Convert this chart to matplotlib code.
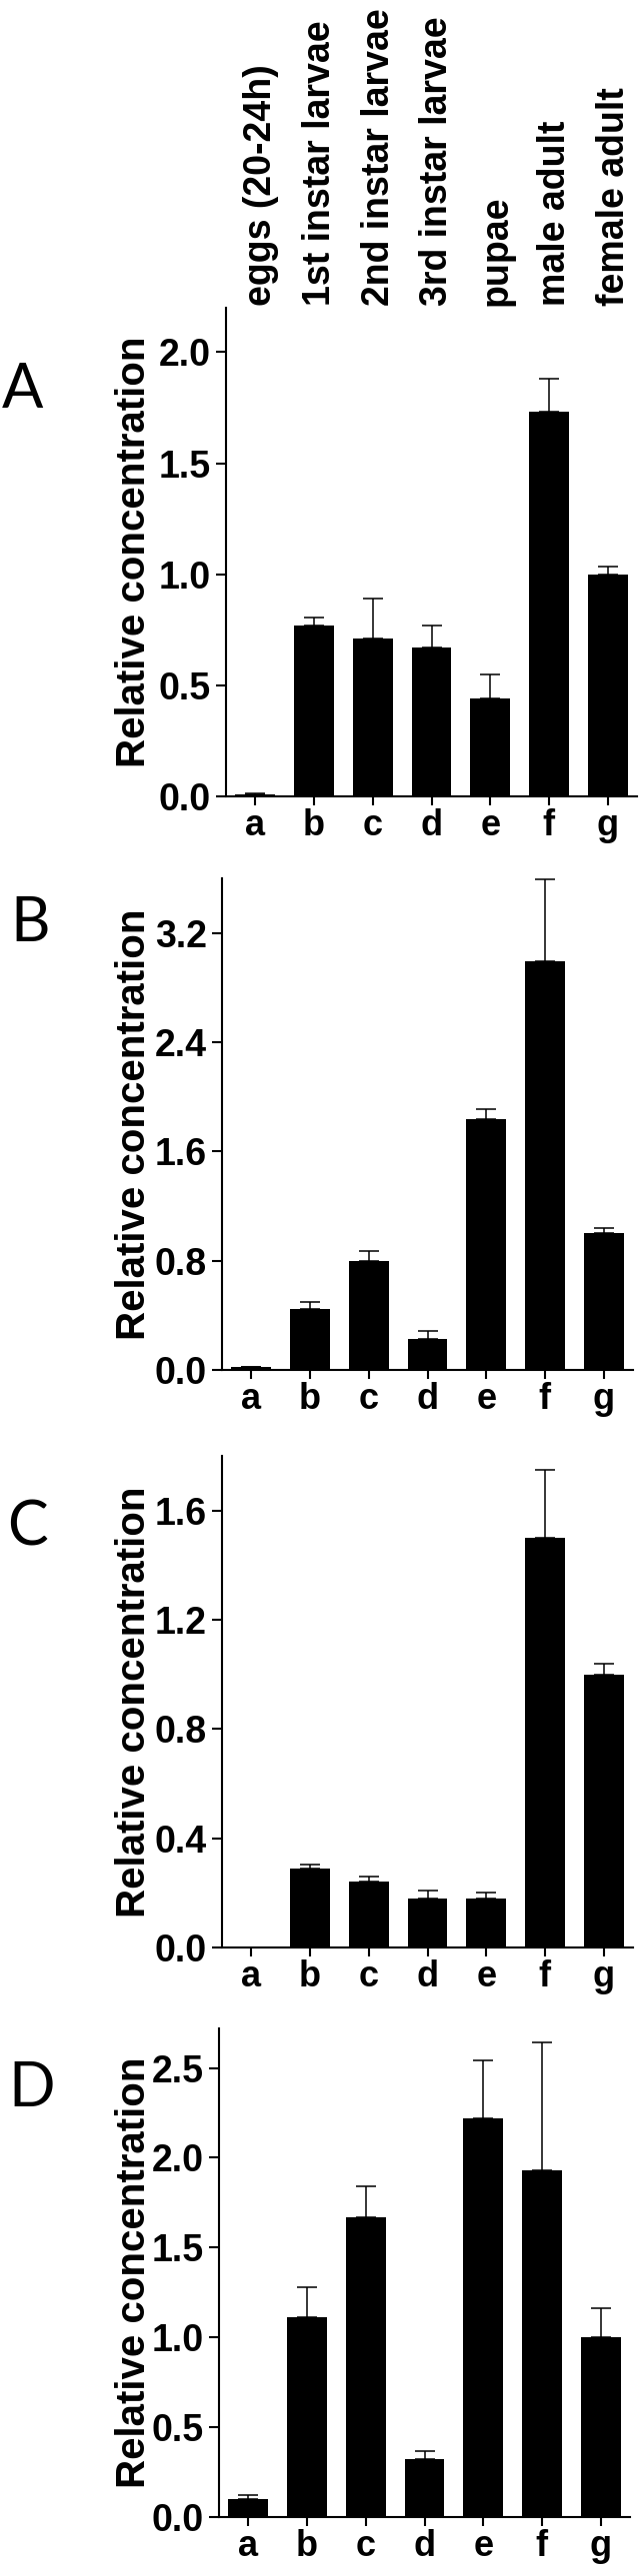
import matplotlib
matplotlib.use('Agg')
import matplotlib.pyplot as plt
import matplotlib.transforms as mtransforms

#************************DATA************************
stageNames = ['eggs (20-24h)', '1st instar larvae', '2nd instar larvae', '3rd instar larvae',
              'pupae', 'male adult', 'female adult']
tickLetters = ['a', 'b', 'c', 'd', 'e', 'f', 'g']

valuesA = [0.01, 0.77, 0.71, 0.67, 0.44, 1.73, 1.00]
errorsA = [0.003, 0.035, 0.18, 0.10, 0.11, 0.15, 0.035]

valuesB = [0.02, 0.45, 0.80, 0.23, 1.84, 2.99, 1.00]
errorsB = [0.004, 0.05, 0.07, 0.055, 0.07, 0.60, 0.04]

valuesC = [0.0, 0.29, 0.24, 0.18, 0.18, 1.50, 1.00]
errorsC = [0.0, 0.015, 0.02, 0.03, 0.02, 0.25, 0.04]

valuesD = [0.10, 1.11, 1.67, 0.32, 2.22, 1.93, 1.00]
errorsD = [0.025, 0.17, 0.17, 0.045, 0.32, 0.71, 0.16]

panelLetters = ['A', 'B', 'C', 'D']
panelValues = [valuesA, valuesB, valuesC, valuesD]
panelErrors = [errorsA, errorsB, errorsC, errorsD]
panelYMax = [2.2, 3.6, 1.8, 2.72]
panelYTicks = [[0.0, 0.5, 1.0, 1.5, 2.0],
               [0.0, 0.8, 1.6, 2.4, 3.2],
               [0.0, 0.4, 0.8, 1.2, 1.6],
               [0.0, 0.5, 1.0, 1.5, 2.0, 2.5]]

#************************LAYOUT (pixels)************************
figW = 644
figH = 2578
dpiVal = 100
# left, top, right, bottom of each axes
axBoxes = [(226, 308, 637, 797),
           (222, 879, 633, 1371),
           (222, 1457, 633, 1949),
           (219, 2030, 630, 2519)]
letterPos = [(22, 390), (30, 925), (28, 1529), (32, 2090)]

mainFont = 'Liberation Sans'
fontSize = 27
lineW = 1.5

plt.rcParams['font.family'] = mainFont
plt.rcParams['font.weight'] = 'bold'

fig = plt.figure(figsize=(figW / dpiVal, figH / dpiVal), dpi=dpiVal)
xPos = list(range(len(tickLetters)))

for index in range(4):
    left, top, right, bottom = axBoxes[index]
    ax = fig.add_axes([left / figW, 1 - bottom / figH, (right - left) / figW, (bottom - top) / figH])
    vals = panelValues[index]
    errs = panelErrors[index]
    ax.bar(xPos, vals, width=0.68, color='black', zorder=2)
    ax.errorbar(xPos, vals, yerr=[[0] * len(errs), errs], fmt='none', ecolor='black',
                elinewidth=1.1, capsize=7, capthick=1.1, zorder=1)
    ax.set_xlim(-0.5, 6.5)
    ax.set_ylim(0, panelYMax[index])
    ax.set_yticks(panelYTicks[index])
    ax.set_yticklabels(['{:.1f}'.format(t) for t in panelYTicks[index]], fontsize=fontSize, fontweight='bold')
    ax.set_xticks(xPos)
    ax.set_xticklabels(tickLetters, fontsize=26, fontweight='bold')
    ax.spines['top'].set_visible(False)
    ax.spines['right'].set_visible(False)
    ax.spines['left'].set_linewidth(lineW)
    ax.spines['bottom'].set_linewidth(lineW)
    ax.tick_params(axis='y', length=7, width=lineW, pad=4)
    ax.tick_params(axis='x', length=6.5, width=lineW, pad=2)
    ax.set_ylabel('Relative concentration', fontsize=29, fontweight='bold')
    axWidth = right - left
    ax.yaxis.set_label_coords((153 - left) / axWidth, 0.5)

    # panel letter
    lx, ly = letterPos[index]
    fig.text(lx / figW, 1 - ly / figH, panelLetters[index], fontsize=44, fontweight='normal',
             family='Lato', ha='center', va='center')

    # stage names above the first panel
    if index == 0:
        trans = mtransforms.blended_transform_factory(ax.transData, ax.transAxes)
        for i, name in enumerate(stageNames):
            ax.text(i + 0.1, 1.005, name, transform=trans, rotation=90, ha='center', va='bottom',
                    fontsize=fontSize, fontweight='bold')

fig.savefig('out.png', dpi=dpiVal, facecolor='white')
